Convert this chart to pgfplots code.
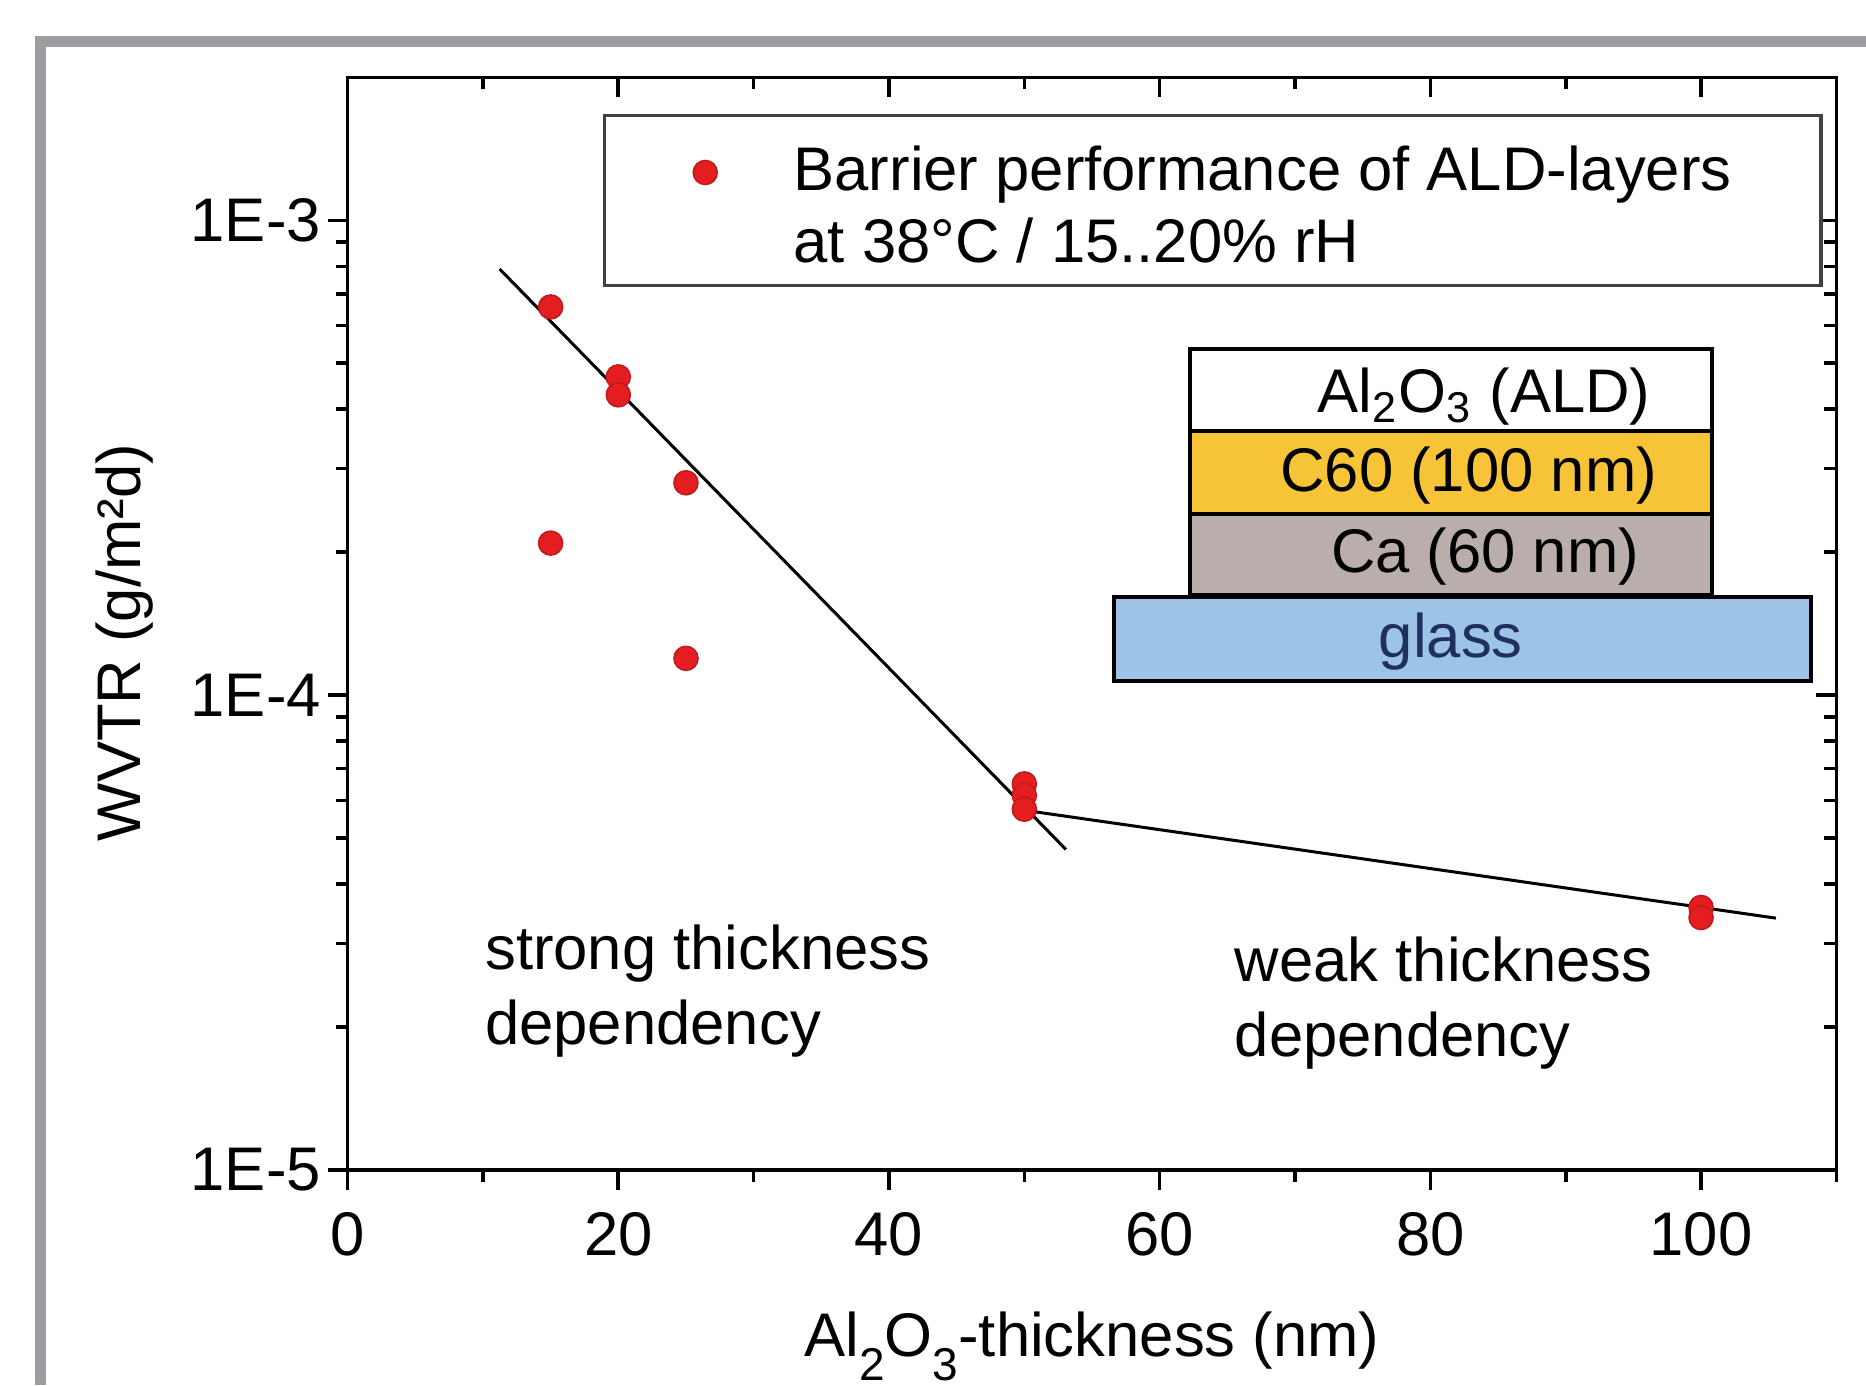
\documentclass[border=0pt]{standalone}
\usepackage{fontspec}
\setmainfont{Liberation Sans}
\usepackage{pgfplots}
\pgfplotsset{compat=1.18}
\definecolor{ptred}{HTML}{E41E20}
\definecolor{framegray}{HTML}{9B9DA1}
\definecolor{cgold}{HTML}{F6C436}
\definecolor{cca}{HTML}{B9AEAB}
\definecolor{cglass}{HTML}{9DC3E6}
\definecolor{cglasstext}{HTML}{1F2F5F}
\begin{document}
\fontsize{15.4}{18}\selectfont
\begin{tikzpicture}
\path[use as bounding box] (0,0) rectangle (466.5pt,346.25pt);
\fill[framegray] (8.75pt,0) rectangle (11.5pt,337.25pt);
\fill[framegray] (8.75pt,334.5pt) rectangle (466.5pt,337.25pt);
% inward ticks on top and right
\begin{axis}[
    at={(86.9pt,53.8pt)}, anchor=south west,
    scale only axis, width=372.2pt, height=273.1pt,
    xmin=0, xmax=110, ymode=log, ymin=1e-5, ymax=2e-3,
    xtick={0,20,...,100}, minor xtick={10,30,...,110},
    ytick={1e-5,1e-4,1e-3},
    major tick length=5pt, minor tick length=3pt,
    axis line style={line width=0.9pt},
    tick style={line width=0.9pt, black},
    tick align=inside, xtick pos=right, ytick pos=right,
    xticklabels={}, yticklabels={}]
\addplot[draw=none, forget plot] coordinates {(0,1e-4)};
\end{axis}
\begin{axis}[
    at={(86.9pt,53.8pt)}, anchor=south west,
    scale only axis, width=372.2pt, height=273.1pt,
    xmin=0, xmax=110, ymode=log, ymin=1e-5, ymax=2e-3,
    xtick={0,20,...,100}, minor xtick={10,30,...,110},
    ytick={1e-5,1e-4,1e-3},
    major tick length=5pt, minor tick length=3pt,
    axis line style={line width=0.9pt},
    tick style={line width=0.9pt, black},
    tick align=outside, xtick pos=left, ytick pos=left,
  yticklabels={1E-5,1E-4,1E-3},
  /pgf/number format/assume math mode=true,
  xticklabel style={inner sep=1.5pt, yshift=-4pt},
  yticklabel style={inner sep=1.5pt},
  xlabel={Al\raisebox{-6pt}{\fontsize{11.5}{11.5}\selectfont 2}O\raisebox{-6pt}{\fontsize{11.5}{11.5}\selectfont 3}-thickness (nm)},
  xlabel style={at={(axis description cs:0.5,-0.171)}, anchor=base},
  ylabel={WVTR (g/m²d)},
  ylabel style={at={(axis description cs:-0.1497,0.4826)}, anchor=center},
  legend style={at={(0.1727,0.9673)}, anchor=north west, draw=none,
    fill=none, inner xsep=16.4pt, inner ysep=7.9pt,
    nodes={inner sep=0pt}, row sep=4.65pt,
    /tikz/every odd column/.append style={column sep=19.1pt}},
  legend cell align=left,
]
% legend frame
\draw[black!75, line width=0.8pt, fill=white] (rel axis cs:0.1727,0.8094) rectangle (rel axis cs:0.9896,0.9651);
\addplot[only marks, mark=*, mark size=3pt,
  mark options={fill=ptred, draw=ptred!85!black, line width=0.4pt}]
  coordinates {
  (15,6.57e-4) (20,4.68e-4) (20,4.29e-4) (25,2.80e-4) (15,2.09e-4) (25,1.195e-4)
  (50,6.5e-5) (50,6.15e-5) (50,5.75e-5) (100,3.57e-5) (100,3.4e-5)
  };
\addlegendentry{Barrier performance of ALD-layers}
\addlegendimage{empty legend}
\addlegendentry{at 38°C / 15..20\% rH}
\addplot[black, line width=0.75pt, forget plot] coordinates {(11.23,7.9e-4) (53.07,4.73e-5)};
\addplot[black, line width=0.75pt, forget plot] coordinates {(50.0,5.72e-5) (105.53,3.39e-5)};
% inset layer stack
\draw[line width=1pt, fill=white] (rel axis cs:0.5659,0.6765) rectangle (rel axis cs:0.9161,0.7516);
\draw[line width=1pt, fill=cgold] (rel axis cs:0.5659,0.6002) rectangle (rel axis cs:0.9161,0.6765);
\draw[line width=1pt, fill=cca] (rel axis cs:0.5659,0.5261) rectangle (rel axis cs:0.9161,0.6002);
\draw[line width=1pt, fill=cglass] (rel axis cs:0.5148,0.4477) rectangle (rel axis cs:0.9832,0.5240);
\node at (rel axis cs:0.7634,0.708) {Al\textsubscript{2}O\textsubscript{3} (ALD)};
\node at (rel axis cs:0.753,0.636) {C60 (100 nm)};
\node at (rel axis cs:0.764,0.561) {Ca (60 nm)};
\node[text=cglasstext] at (rel axis cs:0.741,0.484) {glass};
% annotations
\node[anchor=base west, inner sep=0pt] at (rel axis cs:0.0919,0.183) {strong thickness};
\node[anchor=base west, inner sep=0pt] at (rel axis cs:0.0919,0.1144) {dependency};
\node[anchor=base west, inner sep=0pt] at (rel axis cs:0.5955,0.1721) {weak thickness};
\node[anchor=base west, inner sep=0pt] at (rel axis cs:0.5955,0.1035) {dependency};
\end{axis}
\end{tikzpicture}
\end{document}
